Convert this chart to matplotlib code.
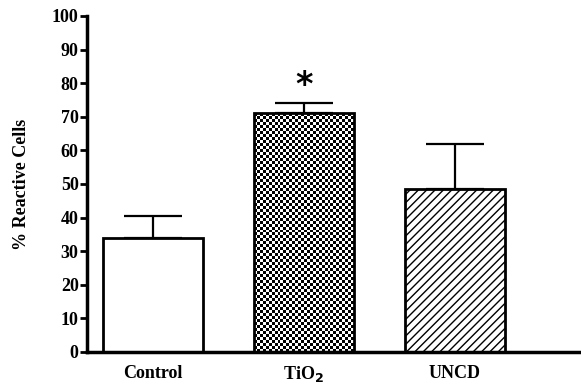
import numpy as np
import matplotlib
matplotlib.use("Agg")
import matplotlib.pyplot as plt

plt.rcParams['font.family'] = ['Liberation Serif', 'DejaVu Serif']
plt.rcParams['font.weight'] = 'bold'
plt.rcParams['hatch.linewidth'] = 1.0

groups = ['Control', 'TiO$_\\mathbf{2}$', 'UNCD']
means = [34, 71, 48.5]
errs = [6.5, 3, 13.5]
yticks = list(range(0, 101, 10))

fig = plt.figure(figsize=(5.81, 3.88), dpi=100)
ax = fig.add_axes([87 / 581, 1 - 352 / 388, 1 - 87 / 581, 336 / 388])

x = np.arange(len(groups))
width = 0.66
bars = ax.bar(x, means, width, color='white', edgecolor='black', linewidth=2, zorder=2)
bars[2].set_hatch('////')
bars[1].set_facecolor('none')
bars[1].set_zorder(3)

# checkerboard fill for the TiO2 bar
b = bars[1]
bx, by = b.get_x(), b.get_y()
bw, bh = b.get_width(), b.get_height()
ncols, nrows = 34, 80
checker = (np.indices((nrows, ncols)).sum(axis=0) % 2).astype(float)
im = ax.imshow(checker, cmap='gray', extent=(bx, bx + bw, by, by + bh),
               interpolation='nearest', aspect='auto', zorder=2.5)
im.set_clip_path(b)

ax.errorbar(x, means, yerr=[np.zeros(len(errs)), errs], fmt='none',
            ecolor='black', elinewidth=1.6, capsize=21, capthick=1.6, zorder=1)
ax.text(x[1], means[1] + errs[1] + 0.5, '*', ha='center', va='bottom',
        fontsize=24, fontweight='bold', family='DejaVu Sans')

ax.set_xlim(-0.437, 2.835)
ax.set_ylim(0, 100)
ax.set_yticks(yticks)
ax.set_xticks(x)
ax.set_xticklabels(groups, fontsize=13)
ax.tick_params(axis='x', length=0, pad=9)
ax.tick_params(axis='y', direction='out', length=5, width=2, labelsize=13, pad=1)
for s in ['top', 'right']:
    ax.spines[s].set_visible(False)
for s in ['left', 'bottom']:
    ax.spines[s].set_linewidth(2.5)
ax.set_ylabel('% Reactive Cells', fontsize=13, fontweight='bold', labelpad=16)

fig.savefig('out.png', dpi=100)
